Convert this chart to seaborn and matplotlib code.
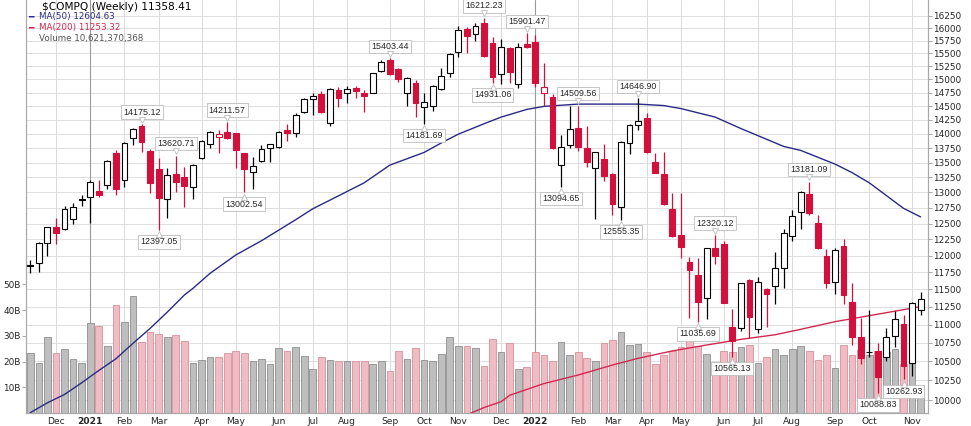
import matplotlib
matplotlib.use("Agg")
import matplotlib.pyplot as plt
from matplotlib import transforms
from matplotlib.ticker import NullLocator
import numpy as np
import pandas as pd
import seaborn as sns

# weekly candles, $COMPQ, week of 2020-11-16 .. week of 2022-11-14
first_week = "2020-11-16"
opens = [11840, 11886, 12200, 12450, 12417, 12566, 12880, 12930, 13024, 13123,
         13659, 13207, 13931, 14138, 13700, 13386, 12893, 13307, 13251, 13090,
         13573, 13821, 13949, 14027, 14009, 13659, 13346, 13532, 13760, 13774,
         14067, 14020, 14397, 14635, 14718, 14198, 14804, 14736, 14829, 14750,
         14750, 15157, 15370, 15190, 14736, 14923, 14477, 14506, 14810, 15114,
         15519, 15977, 15882, 16098, 15697, 15099, 15597, 14909, 15683, 15729,
         14736, 14672, 13458, 13803, 14108, 13745, 13403, 13556, 13307, 12767,
         13833, 14155, 14277, 13516, 13307, 12726, 12322, 11910, 11711, 11372,
         12113, 12180, 10963, 10949, 11638, 10935, 11502, 11550, 11811, 12304,
         12688, 12974, 12502, 11996, 11613, 12149, 11324, 10825, 10620, 10643,
         10554, 10844, 11009, 10483, 11205]
highs = [11936, 12215, 12450, 12582, 12779, 12822, 12958, 13200, 13207, 13545,
         13717, 13861, 14100, 14175.12, 13729, 13573, 13403, 13620.71, 13430, 13475,
         13892, 14055, 14060, 14211.57, 14020, 13665, 13601, 13803, 13830, 14055,
         14175, 14379, 14650, 14736, 14785, 14829, 14855, 14872, 14872, 14804,
         15126, 15370, 15403.44, 15210, 15049, 14987, 14736, 14892, 15210, 15501,
         16043, 16017, 16098, 16212.23, 15816, 15776, 15630, 15697, 15901.47, 15867,
         15316, 14718, 13979, 14500, 14509.56, 14138, 13687, 13821, 13329, 13879,
         14175, 14646.90, 14368, 13670, 13687, 12996, 12986, 11980, 11961, 12120,
         12320.12, 12231, 11215, 11600, 11648, 11680, 11516, 12062, 12409, 12715,
         13020, 13181.09, 12634, 12097, 12113, 12259, 11589, 11088, 11205, 10751,
         10949, 11194, 11134, 11324, 11467]
lows = [11737, 11761, 11996, 12180, 12405, 12492, 12779, 12512, 12920, 13052,
        12958, 13095, 13803, 13687, 12986, 12397.05, 12582, 13012, 12758, 12893,
        13556, 13756, 13670, 13904, 13403, 13002.54, 13052, 13516, 13516, 13756,
        13879, 13938, 14379, 14337, 14379, 14138, 14477, 14562, 14642, 14397,
        14742, 15144, 15082, 14953, 14500, 14295, 14181.69, 14413, 14804, 15049,
        15433, 15509, 15749, 15433, 14931.06, 14909, 14936, 14829, 15597, 14855,
        14500, 13729, 13094.65, 13745, 13706, 13430, 12566, 13193, 12634, 12555.35,
        13648, 14067, 13659, 13318, 12795, 12294, 11961, 11088, 11035.69, 11074,
        11876, 11300, 10565.13, 10915, 10811, 10888, 10971, 11290, 11516, 12231,
        12409, 12634, 12097, 11516, 11434, 11290, 10720, 10466, 10555, 10088.83,
        10509, 10689, 10262.93, 10308, 11134]
closes = [11855, 12200, 12440, 12355, 12726, 12767, 12893, 13177, 12958, 13527,
          13052, 13833, 14080, 13850, 13161, 12904, 13290, 13177, 13111, 13458,
          13879, 14027, 13997, 13921, 13717, 13391, 13447, 13734, 13814, 14037,
          14009, 14337, 14625, 14686, 14397, 14810, 14642, 14810, 14785, 14686,
          15114, 15336, 15094, 15000, 15020, 14550, 14570, 14872, 15067, 15481,
          15963, 15842, 16043, 15447, 15049, 15617, 15144, 15630, 15623, 14923,
          14860, 13745, 13770, 14080, 13763, 13516, 13676, 13273, 12811, 13861,
          14155, 14234, 13687, 13329, 12811, 12304, 12129, 11786, 11324, 12113,
          11996, 11309, 10779, 11589, 11102, 11613, 11433, 11811, 12355, 12624,
          13012, 12672, 12113, 11598, 12088, 11419, 10825, 10541, 10629, 10299,
          10833, 11074, 10439, 11300, 11358.41]
volume_b = [23.3, 19.5, 29.7, 23.3, 24.9, 21.0, 19.5, 35.0, 33.7, 26.2,
            42.0, 35.5, 45.6, 27.5, 31.3, 30.7, 29.5, 30.1, 27.8, 19.3,
            20.7, 21.6, 21.6, 23.2, 24.2, 23.2, 20.3, 21.0, 19.1, 25.1,
            24.2, 25.5, 22.3, 17.1, 21.6, 20.7, 20.3, 20.3, 20.1, 20.1,
            19.1, 20.1, 16.5, 24.2, 21.0, 25.3, 20.7, 20.3, 22.9, 29.7,
            26.2, 26.2, 25.3, 18.4, 28.8, 23.6, 27.2, 17.1, 18.0, 23.6,
            22.7, 20.3, 27.7, 22.7, 23.6, 21.4, 20.3, 27.2, 28.4, 31.6,
            26.6, 26.8, 23.8, 19.1, 22.7, 24.2, 25.5, 28.4, 26.2, 22.9,
            19.7, 24.2, 23.5, 25.5, 26.6, 19.3, 21.9, 24.9, 22.7, 24.9,
            26.2, 24.0, 20.6, 22.7, 17.5, 26.6, 22.7, 24.5, 22.7, 24.0,
            23.6, 24.9, 19.1, 27.1, 10.6]

ma50_week = [0, 2, 4, 6, 8, 10, 12, 14, 16, 18, 19, 21, 24, 27, 31, 33, 36, 39, 42, 46,
             48, 50, 53, 55, 58, 60, 64, 68, 71, 74, 76, 80, 83, 88, 90, 94, 96, 98, 102, 104]
ma50_value = [9841, 9965, 10070, 10220, 10380, 10535, 10743, 10948, 11175, 11420,
              11516, 11737, 12012, 12230, 12560, 12735, 12945, 13160, 13458, 13675,
              13840, 13995, 14180, 14300, 14440, 14495, 14537, 14537, 14537, 14510,
              14455, 14300, 14095, 13780, 13710, 13475, 13330, 13160, 12742, 12604.63]
ma200_week = [51, 53, 55, 56, 60, 64, 68, 71, 75, 79, 83, 87, 90, 94, 98, 102, 104]
ma200_value = [9815, 9905, 9979, 10060, 10210, 10321, 10452, 10541, 10640, 10720,
               10797, 10860, 10935, 11041, 11125, 11210, 11253.32]

# labelled highs (above) and lows (below)
peak_week = [13, 17, 23, 42, 53, 58, 64, 71, 80, 91]
trough_week = [15, 25, 46, 54, 62, 69, 78, 82, 99, 102]

price_ticks = list(range(10000, 16251, 250))
volume_ticks = [10, 20, 30, 40, 50]

RED = "#D3103C"
NAVY = "#2A2A86"
CRIMSON = "#D02850"

sns.set_style("white")
plt.rcParams["font.family"] = ["DejaVu Sans"]

W, H = 971, 426
fig = plt.figure(figsize=(W / 100, H / 100), dpi=100)
ax_vol = fig.add_axes([26 / W, 13 / H, (928 - 26) / W, 413 / H])
ax_px = ax_vol.twinx()

weeks = pd.date_range(first_week, periods=len(closes), freq="7D")
idx = np.arange(len(closes))
o = np.array(opens, float)
h = np.array(highs, float)
l = np.array(lows, float)
c = np.array(closes, float)
prev = np.r_[c[0] - 1, c[:-1]]
up = c >= prev

# limits
ax_vol.set_xlim(-0.5, 104.86)
ax_vol.set_ylim(0, 160.4)
ax_px.set_yscale("log")
ax_px.set_ylim(9837, 16582)

# grid (behind volume bars)
trans = transforms.blended_transform_factory(ax_vol.transAxes, ax_px.transData)
for p in price_ticks:
    ax_vol.plot([0, 1], [p, p], transform=trans, color="#DEDEDE", lw=0.7, zorder=0)
month_pos = [i for i in range(1, len(weeks)) if weeks[i].month != weeks[i - 1].month]
month_lab = []
for i in month_pos:
    if weeks[i].month == 1:
        ax_vol.axvline(i, color="#9A9A9A", lw=0.8, zorder=0)
        month_lab.append(str(weeks[i].year))
    else:
        ax_vol.axvline(i, color="#DADADA", lw=0.7, zorder=0)
        month_lab.append(weeks[i].strftime("%b"))

# volume
vol_fill = np.where(up, "#BEBEBE", "#F0BCC3")
vol_edge = np.where(up, "#8E8E8E", "#D8909B")
ax_vol.bar(idx, volume_b, width=0.78, color=vol_fill, edgecolor=vol_edge, linewidth=0.6, zorder=1)

# moving averages
sns.lineplot(x=ma50_week, y=ma50_value, ax=ax_px, color=NAVY, lw=1.0, zorder=1.5)
sns.lineplot(x=ma200_week, y=ma200_value, ax=ax_px, color=CRIMSON, lw=1.0, zorder=1.5)

# candles
edge = np.where(up, "black", RED)
fill = np.where(c > o, "white", edge)
ax_px.vlines(idx, l, h, colors=edge, lw=0.9, zorder=2)
ax_px.bar(idx, np.abs(c - o), bottom=np.minimum(o, c), width=0.68,
          color=fill, edgecolor=edge, linewidth=0.8, zorder=3)

# price callouts with a small pointer
box = dict(boxstyle="square,pad=0.25", fc="white", ec="#BDBDBD", lw=0.6)
ptr_up = transforms.offset_copy(ax_px.transData, fig=fig, x=0, y=3.2, units="points")
ptr_dn = transforms.offset_copy(ax_px.transData, fig=fig, x=0, y=-3.2, units="points")
for i in peak_week:
    ax_px.annotate(f"{highs[i]:.2f}", (i, highs[i]), xytext=(0, 5.3), textcoords="offset points",
                   ha="center", va="bottom", fontsize=6.4, family="Liberation Sans",
                   bbox=box, zorder=6)
    ax_px.plot(i, highs[i], marker="v", ms=4.5, mfc="white", mec="#BDBDBD", mew=0.6,
               transform=ptr_up, zorder=7)
for i in trough_week:
    ax_px.annotate(f"{lows[i]:.2f}", (i, lows[i]), xytext=(0, -5.3), textcoords="offset points",
                   ha="center", va="top", fontsize=6.4, family="Liberation Sans",
                   bbox=box, zorder=6)
    ax_px.plot(i, lows[i], marker="^", ms=4.5, mfc="white", mec="#BDBDBD", mew=0.6,
               transform=ptr_dn, zorder=7)
ax_px.set_ylim(9837, 16582)

# axes styling
ax_px.set_yticks(price_ticks)
ax_px.set_yticklabels([str(p) for p in price_ticks])
ax_px.yaxis.set_minor_locator(NullLocator())
ax_px.tick_params(axis="y", labelsize=6.4, length=3, width=0.6, color="#999999", pad=1)
ax_vol.set_yticks(volume_ticks)
ax_vol.set_yticklabels([f"{v}B" for v in volume_ticks])
ax_vol.tick_params(axis="y", labelsize=6.4, length=3, width=0.6, color="#999999", pad=1)
ax_vol.set_xticks(month_pos)
ax_vol.set_xticklabels(month_lab)
ax_vol.tick_params(axis="x", labelsize=6.6, length=0, pad=3)
for t, lab in zip(ax_vol.get_xticklabels(), month_lab):
    if lab.isdigit():
        t.set_fontweight("bold")
for ax in (ax_vol, ax_px):
    ax.set_xlabel("")
    ax.set_ylabel("")
    ax.spines["top"].set_visible(False)
    for s in ("left", "right", "bottom"):
        ax.spines[s].set_color("#A8A8A8")
        ax.spines[s].set_linewidth(0.8)

# header
def ftext(x, y, s, **kw):
    fig.text(x / W, 1 - y / H, s, va="center", ha="left", **kw)

ftext(42, 6.5, "$COMPQ (Weekly) 11358.41", fontsize=7.6, color="black")
ftext(28, 17, "━", fontsize=6.5, color=NAVY)
ftext(39, 17, "MA(50) 12604.63", fontsize=6.3, color=NAVY)
ftext(28, 27.5, "━", fontsize=6.5, color=CRIMSON)
ftext(39, 27.5, "MA(200) 11253.32", fontsize=6.3, color=CRIMSON)
ftext(39, 38, "Volume 10,621,370,368", fontsize=6.3, color="#555555")

fig.savefig("out.png", dpi=100)
